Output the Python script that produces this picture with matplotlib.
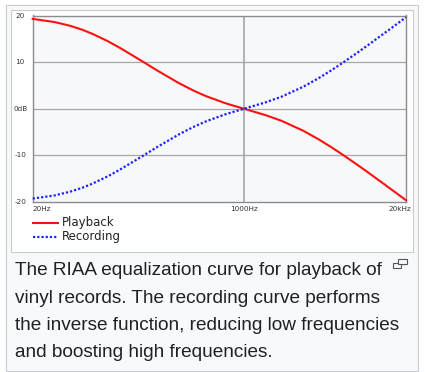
import matplotlib.pyplot as plt
from matplotlib.patches import Rectangle

# RIAA curve, dB relative to 1 kHz
freqs = [20, 30, 40, 50, 60, 80, 100, 150, 200, 300, 400, 500, 700, 800, 1000,
         1500, 2000, 3000, 4000, 5000, 6000, 8000, 10000, 15000, 20000]
playback = [19.27, 18.59, 17.79, 16.95, 16.10, 14.51, 13.09, 10.27, 8.22, 5.48,
            3.78, 2.65, 1.23, 0.75, 0.0, -1.40, -2.59, -4.74, -6.61, -8.21,
            -9.60, -11.89, -13.73, -17.16, -19.62]
recording = [-19.27, -18.59, -17.79, -16.95, -16.10, -14.51, -13.09, -10.27, -8.22, -5.48,
             -3.78, -2.65, -1.23, -0.75, 0.0, 1.40, 2.59, 4.74, 6.61, 8.21,
             9.60, 11.89, 13.73, 17.16, 19.62]
y_ticks = [20, 10, 0, -10, -20]
y_labels = ['20', '10', '0dB', '-10', '-20']
x_ticks = [20, 1000, 20000]
x_labels = ['20Hz', '1000Hz', '20kHz']
caption = ["The RIAA equalization curve for playback of",
           "vinyl records. The recording curve performs",
           "the inverse function, reducing low frequencies",
           "and boosting high frequencies."]

W, H = 425, 372
fig = plt.figure(figsize=(W / 100, H / 100), dpi=100)
fig.patch.set_facecolor('white')

def px(x, y):
    return x / W, 1 - y / H

# thumbnail frames (behind the axes)
fig.patches.append(Rectangle(px(6, 371), 412 / W, 366 / H, transform=fig.transFigure,
                             facecolor='#f8f9fa', edgecolor='#c8ccd1', lw=0.8, zorder=-3))
fig.patches.append(Rectangle(px(11, 252), 402 / W, 242 / H, transform=fig.transFigure,
                             facecolor='white', edgecolor='#c8ccd1', lw=0.8, zorder=-2))

l, t, r, b = 32.7, 15.5, 406, 202
ax = fig.add_axes([l / W, 1 - b / H, (r - l) / W, (b - t) / H])
ax.set_facecolor('#f7f8fa')
ax.set_xscale('log')
ax.set_xlim(20, 20000)
ax.set_ylim(-20, 20)
for y in y_ticks[1:-1]:
    ax.axhline(y, color='#a8a8a8', lw=0.9, zorder=1)
ax.axvline(1000, color='#a0a0a0', lw=1.1, zorder=1)
for s in ax.spines.values():
    s.set_color('#8c8c8c')
    s.set_linewidth(1.0)
ax.set_xticks([])
ax.set_yticks([])
ax.minorticks_off()

ax.plot(freqs, playback, color='#ff1010', lw=1.5, clip_on=False, zorder=3)
ax.plot(freqs, recording, color='#2020ff', lw=1.6, linestyle=(0, (1, 0.9)),
        clip_on=False, zorder=3)

tick_font = dict(fontsize=5.2, color='#333333', family='DejaVu Sans')
for y, lab in zip(y_ticks, y_labels):
    ax.annotate(lab, (0, y), xycoords=('axes fraction', 'data'), xytext=(-12.5, 0),
                textcoords='offset pixels', ha='center', va='center',
                annotation_clip=False, **tick_font)
ax.annotate(x_labels[0], (0, 0), xycoords='axes fraction', xytext=(-0.5, -4),
            textcoords='offset pixels', ha='left', va='top', **tick_font)
ax.annotate(x_labels[1], (1000, 0), xycoords=('data', 'axes fraction'), xytext=(0, -4),
            textcoords='offset pixels', ha='center', va='top', **tick_font)
ax.annotate(x_labels[2], (1, 0), xycoords='axes fraction', xytext=(5, -4),
            textcoords='offset pixels', ha='right', va='top', **tick_font)

# legend
lx0, lx1 = 33, 58
fig.add_artist(plt.Line2D([lx0 / W, lx1 / W], [1 - 222.5 / H] * 2, color='#ff1010', lw=1.5))
fig.add_artist(plt.Line2D([lx0 / W, lx1 / W], [1 - 236.8 / H] * 2, color='#2020ff', lw=1.6,
                          linestyle=(0, (1, 0.9))))
fig.text(62 / W, 1 - 222.5 / H, 'Playback', fontsize=8.5, color='#222222',
         family='DejaVu Sans', va='center')
fig.text(62 / W, 1 - 236.8 / H, 'Recording', fontsize=8.5, color='#222222',
         family='DejaVu Sans', va='center')

# caption
baselines = [275, 303, 330, 357]
for line, yb in zip(caption, baselines):
    fig.text(15 / W, 1 - yb / H, line, fontsize=13.65, color='#202122',
             family='Liberation Sans', va='baseline')

# magnify icon
fig.patches.append(Rectangle(px(392.5, 267.5), 8 / W, 5 / H, transform=fig.transFigure,
                             facecolor='none', edgecolor='#555555', lw=0.8))
fig.patches.append(Rectangle(px(397.5, 263.5), 9 / W, 5 / H, transform=fig.transFigure,
                             facecolor='#f8f9fa', edgecolor='#555555', lw=0.8))

fig.savefig('out.png', dpi=100)
